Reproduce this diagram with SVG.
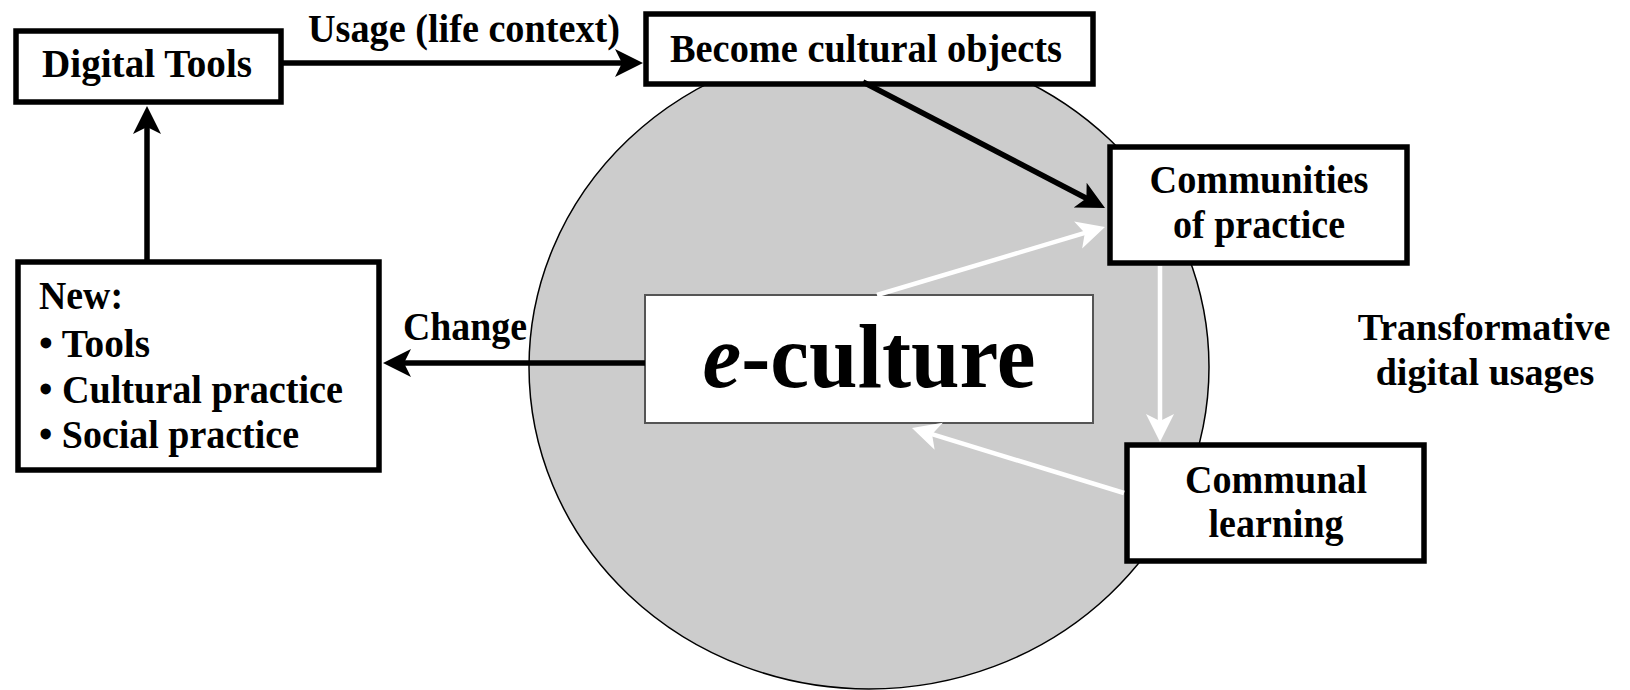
<svg xmlns="http://www.w3.org/2000/svg" width="1630" height="690" viewBox="0 0 1630 690">
<style>
.t{font-family:"Liberation Serif","Times New Roman",serif;font-weight:bold;font-size:41px;fill:#000}
.c{text-anchor:middle}
.box{fill:#fff;stroke:#000;stroke-width:5.5}
.blk{stroke:#000;stroke-width:5.5;fill:none}
.wht{stroke:#fff;stroke-width:4.5;fill:none}
</style>
<defs>
<marker id="ab" markerUnits="userSpaceOnUse" orient="auto" refX="0" refY="0" markerWidth="60" markerHeight="60" overflow="visible">
<path d="M20,0 L-8,-14 L-1,0 L-8,14 Z" fill="#000"/>
</marker>
<marker id="aw" markerUnits="userSpaceOnUse" orient="auto" refX="0" refY="0" markerWidth="60" markerHeight="60" overflow="visible">
<path d="M20,0 L-8,-14 L-1,0 L-8,14 Z" fill="#fff"/>
</marker>
</defs>
<rect width="1630" height="690" fill="#fff"/>
<ellipse cx="869" cy="367" rx="340" ry="322" fill="#cccccc" stroke="#000" stroke-width="1.5"/>

<g id="digital-tools">
<rect class="box" x="16" y="31" width="265" height="71"/>
<text class="t c" x="147" y="77" textLength="210" lengthAdjust="spacingAndGlyphs">Digital Tools</text>
</g>
<g id="become-cultural-objects">
<rect class="box" x="646" y="14" width="447" height="70"/>
<text class="t c" x="866" y="62" textLength="392" lengthAdjust="spacingAndGlyphs">Become cultural objects</text>
</g>
<g id="communities">
<rect class="box" x="1110" y="147" width="297" height="116"/>
<text class="t c" x="1259" y="193" textLength="219" lengthAdjust="spacingAndGlyphs">Communities</text>
<text class="t c" x="1259" y="238" textLength="172" lengthAdjust="spacingAndGlyphs">of practice</text>
</g>
<g id="communal-learning">
<rect class="box" x="1127" y="445" width="297" height="116"/>
<text class="t c" x="1276" y="493" textLength="182" lengthAdjust="spacingAndGlyphs">Communal</text>
<text class="t c" x="1276" y="537" textLength="135" lengthAdjust="spacingAndGlyphs">learning</text>
</g>
<g id="new">
<rect class="box" x="18" y="262" width="361" height="208"/>
<text class="t" x="39" y="309" textLength="84" lengthAdjust="spacingAndGlyphs">New:</text>
<text class="t" x="39" y="357" textLength="111" lengthAdjust="spacingAndGlyphs">• Tools</text>
<text class="t" x="39" y="403" textLength="304" lengthAdjust="spacingAndGlyphs">• Cultural practice</text>
<text class="t" x="39" y="448" textLength="260" lengthAdjust="spacingAndGlyphs">• Social practice</text>
</g>
<g id="e-culture">
<rect x="645" y="295" width="448" height="128" fill="#fff" stroke="#555" stroke-width="2"/>
<text class="t c" x="869" y="387" style="font-size:90px" textLength="333" lengthAdjust="spacingAndGlyphs"><tspan font-style="italic">e</tspan>-culture</text>
</g>
<g id="transformative">
<text class="t c" x="1484" y="340" style="font-size:38px">Transformative</text>
<text class="t c" x="1485" y="385" style="font-size:38px">digital usages</text>
</g>

<g id="connectors">
<line class="blk" x1="283" y1="63" x2="623" y2="63" marker-end="url(#ab)"/>
<line class="blk" x1="147" y1="260" x2="147" y2="126" marker-end="url(#ab)"/>
<line class="blk" x1="863" y1="82" x2="1087.3" y2="198.8" marker-end="url(#ab)"/>
<line class="blk" x1="645" y1="363" x2="403" y2="363" marker-end="url(#ab)"/>
<line class="wht" x1="877" y1="295" x2="1085.8" y2="232.7" marker-end="url(#aw)"/>
<line class="wht" x1="1160" y1="266" x2="1160" y2="422" marker-end="url(#aw)"/>
<line class="wht" x1="1124" y1="493" x2="931.1" y2="433.9" marker-end="url(#aw)"/>
<text class="t c" x="464" y="42" textLength="312" lengthAdjust="spacingAndGlyphs">Usage (life context)</text>
<text class="t c" x="465" y="340" textLength="124" lengthAdjust="spacingAndGlyphs">Change</text>
</g>
</svg>
